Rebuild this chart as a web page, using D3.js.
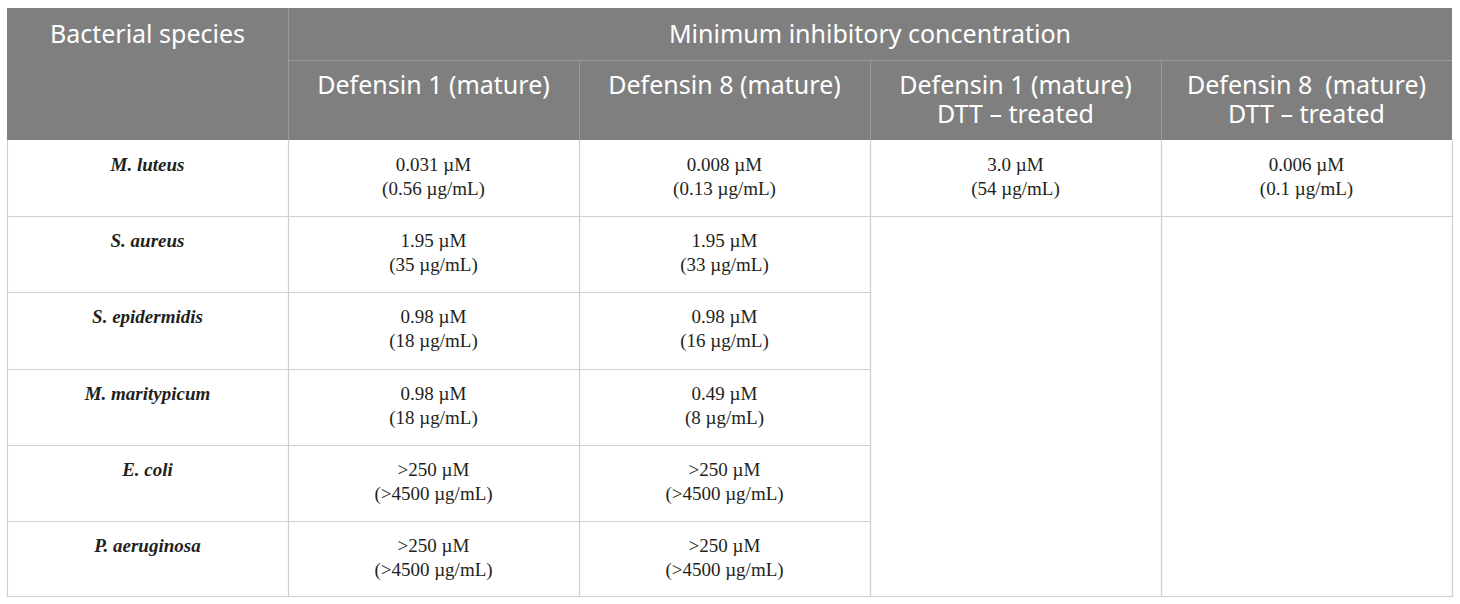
<!DOCTYPE html>
<html>
<head>
<meta charset="utf-8">
<title>MIC of defensins</title>
<style>
body { margin: 0; background: #fff; }
svg { display: block; }
text { white-space: pre; }
</style>
<script src="https://d3js.org/d3.v7.min.js"></script>
</head>
<body>
<svg id="table"></svg>
<script>

// table content
const species = ["M. luteus", "S. aureus", "S. epidermidis", "M. maritypicum", "E. coli", "P. aeruginosa"];
const groupTitle = "Minimum inhibitory concentration";
const firstHeader = "Bacterial species";
const colHeaders = [
    ["Defensin 1 (mature)"],
    ["Defensin 8 (mature)"],
    ["Defensin 1 (mature)", "DTT \u2013 treated"],
    ["Defensin 8  (mature)", "DTT \u2013 treated"]
];
const def1Molar = ["0.031 \u00b5M", "1.95 \u00b5M", "0.98 \u00b5M", "0.98 \u00b5M", ">250 \u00b5M", ">250 \u00b5M"];
const def1Mass = ["(0.56 \u00b5g/mL)", "(35 \u00b5g/mL)", "(18 \u00b5g/mL)", "(18 \u00b5g/mL)", "(>4500 \u00b5g/mL)", "(>4500 \u00b5g/mL)"];
const def8Molar = ["0.008 \u00b5M", "1.95 \u00b5M", "0.98 \u00b5M", "0.49 \u00b5M", ">250 \u00b5M", ">250 \u00b5M"];
const def8Mass = ["(0.13 \u00b5g/mL)", "(33 \u00b5g/mL)", "(16 \u00b5g/mL)", "(8 \u00b5g/mL)", "(>4500 \u00b5g/mL)", "(>4500 \u00b5g/mL)"];
const def1DttMolar = ["3.0 \u00b5M"];
const def1DttMass = ["(54 \u00b5g/mL)"];
const def8DttMolar = ["0.006 \u00b5M"];
const def8DttMass = ["(0.1 \u00b5g/mL)"];

const W = 1460, H = 604;
const LEFT = 7, RIGHT = 1452, TOP = 8, HEAD1 = 60, HEAD2 = 140, BOTTOM = 597;
const FIRST_W = 281;

const svg = d3.select("#table").attr("width", W).attr("height", H);

const x = d3.scaleBand().domain(d3.range(4)).range([LEFT + FIRST_W, RIGHT]);
const y = d3.scaleBand().domain(species).range([HEAD2, BOTTOM]);

const HEAD_BG = "#7f7f7f";
const HEAD_LINE = "#9a9a9a";
const GRID = "#cfcfcf";
const SANS = "'Noto Sans', 'Open Sans', sans-serif";
const SERIF = "'Liberation Serif', 'Times New Roman', serif";

// header background
svg.append("rect")
    .attr("x", LEFT).attr("y", TOP)
    .attr("width", RIGHT - LEFT).attr("height", HEAD2 - TOP)
    .attr("fill", HEAD_BG);

// header lines
const hl = svg.append("g").attr("stroke", HEAD_LINE).attr("stroke-width", 1);
hl.append("line").attr("x1", x(0)).attr("x2", RIGHT).attr("y1", HEAD1 + 0.5).attr("y2", HEAD1 + 0.5);
hl.selectAll("line.v").data(d3.range(4)).join("line")
    .attr("class", "v")
    .attr("x1", d => Math.round(x(d)) + 0.5).attr("x2", d => Math.round(x(d)) + 0.5)
    .attr("y1", d => d === 0 ? TOP : HEAD1).attr("y2", HEAD2);

// header text
const ht = svg.append("g").attr("fill", "#fff").attr("font-family", SANS).attr("font-size", 25).attr("text-anchor", "middle");
ht.append("text").attr("x", LEFT + FIRST_W / 2).attr("y", 43).text(firstHeader);
ht.append("text").attr("x", (x(0) + RIGHT) / 2).attr("y", 43).text(groupTitle);
ht.selectAll("text.col").data(colHeaders).join("text")
    .attr("class", "col")
    .attr("x", (d, i) => x(i) + x.bandwidth() / 2)
    .attr("y", 94)
    .selectAll("tspan").data(d => d).join("tspan")
    .attr("x", function() { return this.parentNode.getAttribute("x"); })
    .attr("dy", (d, i) => i === 0 ? 0 : 29)
    .text(d => d);

// body grid
const grid = svg.append("g").attr("stroke", GRID).attr("stroke-width", 1.2).attr("fill", "none");
// horizontal lines between rows (cols 0-2 only, except after first row)
grid.selectAll("line.h").data(species.slice(1)).join("line")
    .attr("class", "h")
    .attr("x1", LEFT)
    .attr("x2", (d, i) => i === 0 ? RIGHT : x(2))
    .attr("y1", d => Math.round(y(d)) + 0.5).attr("y2", d => Math.round(y(d)) + 0.5);
grid.append("line").attr("x1", LEFT).attr("x2", RIGHT).attr("y1", BOTTOM - 0.5).attr("y2", BOTTOM - 0.5);
grid.selectAll("line.v").data([LEFT, x(0), x(1), x(2), x(3), RIGHT]).join("line")
    .attr("class", "v")
    .attr("x1", d => Math.round(d) + 0.5).attr("x2", d => Math.round(d) + 0.5)
    .attr("y1", HEAD2).attr("y2", BOTTOM);

// species names
svg.append("g").attr("font-family", SERIF).attr("font-size", 19)
    .attr("font-weight", "bold").attr("font-style", "italic")
    .attr("fill", "#231f20").attr("text-anchor", "middle")
    .selectAll("text").data(species).join("text")
    .attr("x", LEFT + FIRST_W / 2)
    .attr("y", d => y(d) + 31)
    .text(d => d);

// value cells
const cols = [
    [def1Molar, def1Mass],
    [def8Molar, def8Mass],
    [def1DttMolar, def1DttMass],
    [def8DttMolar, def8DttMass]
];
const cells = [];
cols.forEach((c, ci) => {
    c[0].forEach((v, ri) => cells.push({ col: ci, row: species[ri], lines: [v, c[1][ri]] }));
});

svg.append("g").attr("font-family", SERIF).attr("font-size", 19)
    .attr("fill", "#231f20").attr("text-anchor", "middle")
    .selectAll("text").data(cells).join("text")
    .attr("x", d => x(d.col) + x.bandwidth() / 2)
    .attr("y", d => y(d.row) + 31)
    .selectAll("tspan").data(d => d.lines).join("tspan")
    .attr("x", function() { return this.parentNode.getAttribute("x"); })
    .attr("dy", (d, i) => i === 0 ? 0 : 24)
    .text(d => d);

</script>
</body>
</html>
